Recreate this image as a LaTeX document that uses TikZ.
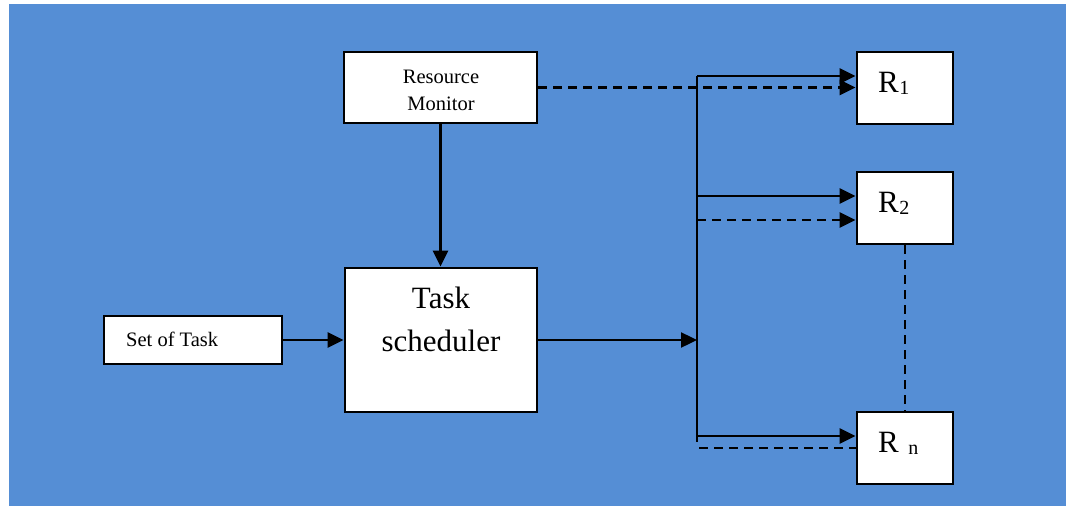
\documentclass[tikz,border=0pt]{standalone}
\usepackage{fontspec}
\setmainfont{Liberation Serif}
\usetikzlibrary{arrows.meta}
\definecolor{bgblue}{RGB}{85,142,213}
\begin{document}
\begin{tikzpicture}[x=1pt,y=-1pt,
  box/.style={draw=black, fill=white, line width=2.8pt, inner sep=0pt},
  tip/.style={-{Triangle[length=16pt,width=15pt]}},
  conn/.style={line width=2.4pt, tip},
  dashconn/.style={line width=2.4pt, dash pattern=on 9pt off 6pt},
  txt/.style={inner sep=0pt, font=\fontsize{20.5}{26}\selectfont},
  big/.style={inner sep=0pt, font=\fontsize{31}{43}\selectfont},
  sub/.style={inner sep=0pt, font=\fontsize{20}{20}\selectfont},
]
\useasboundingbox (0,0) rectangle (1066,506);
\fill[bgblue] (9,4) rectangle (1066,506);

% blocks
\node[box, minimum width=193pt, minimum height=71pt] (rm) at (440.5,87.5) {};
\node[box, minimum width=192pt, minimum height=144pt] (ts) at (441,340) {};
\node[box, minimum width=178pt, minimum height=48pt] (sot) at (193,340) {};
\node[box, minimum width=96pt, minimum height=72pt] (r1) at (905,88) {};
\node[box, minimum width=96pt, minimum height=72pt] (r2) at (905,208) {};
\node[box, minimum width=96pt, minimum height=72pt] (rn) at (905,448) {};

% labels
\node[txt, anchor=base] (rm-a) at (441,83) {Resource};
\node[txt, anchor=base] (rm-b) at (441,110) {Monitor};
\node[big, anchor=base] (ts-a) at (441,308) {Task};
\node[big, anchor=base] (ts-b) at (441,351) {scheduler};
\node[txt, anchor=base west] (sot-a) at (126,346) {Set of Task};
\node[big, anchor=base west] (r1-a) at (878,92) {R};
\node[sub, anchor=base west] (r1-b) at (r1-a.base east) [yshift=-2pt] {1};
\node[big, anchor=base west] (r2-a) at (878,212) {R};
\node[sub, anchor=base west] (r2-b) at (r2-a.base east) [yshift=-2pt] {2};
\node[big, anchor=base west] (rn-a) at (878,452) {R};
\node[sub, anchor=base west] (rn-b) at ([xshift=9pt]rn-a.base east) [yshift=-2pt] {n};

% distribution bus
\coordinate (bus-top) at (697,76);
\coordinate (bus-in) at (697,340);
\coordinate (bus-r2) at (697,196);
\coordinate (bus-r2d) at (697,220);
\coordinate (bus-bot) at (697,442);
\coordinate (bus-rn) at (697,436);
\coordinate (bus-rnd) at (699,448);

% connectors
\draw[conn] (rm.south) -- (rm.south |- ts.north);
\draw[conn] (sot.east) -- (sot.east -| ts.west);
\draw[conn] (ts.east) -- (bus-in);
\draw[line width=2.4pt] (bus-top) -- (bus-bot);
\draw[conn] (bus-top) -- (bus-top -| r1.west);
\draw[conn] (bus-r2) -- (bus-r2 -| r2.west);
\draw[conn] (bus-rn) -- (bus-rn -| rn.west);
\draw[dashconn, tip] (rm.east) -- (rm.east -| r1.west);
\draw[dashconn, tip] (bus-r2d) -- (bus-r2d -| r2.west);
\draw[dashconn] (bus-rnd) -- (rn.west);
\draw[dashconn] (r2.south) -- (rn.north);
\end{tikzpicture}
\end{document}
